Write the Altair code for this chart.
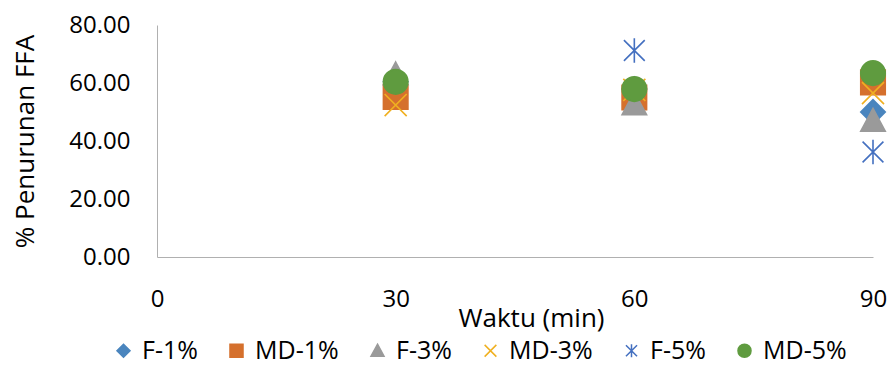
import altair as alt
import pandas as pd

times = [30, 60, 90]
series = ["F-1%", "MD-1%", "F-3%", "MD-3%", "F-5%", "MD-5%"]
f1 = [60.4, 57.9, 50.0]
md1 = [55.2, 55.0, 60.2]
f3 = [63.0, 52.7, 47.0]
md3 = [52.4, 57.6, 56.5]
f5 = [None, 71.2, 36.2]
md5 = [60.4, 57.9, 63.4]
colors = ["#4A85BE", "#D5702D", "#9A9A9A", "#F0B020", "#4470C0", "#5F9B3F"]

shapes = [
    "diamond",
    "square",
    "M0,-1L1,0.85L-1,0.85Z",
    "M-0.9,-0.9L0.9,0.9M-0.9,0.9L0.9,-0.9",
    "M0,-1L0,1M-0.85,-0.85L0.85,0.85M-0.85,0.85L0.85,-0.85",
    "circle",
]

rows = []
for i, (name, vals) in enumerate(zip(series, [f1, md1, f3, md3, f5, md5])):
    for t, v in zip(times, vals):
        if v is not None:
            rows.append({"Waktu": t, "Nilai": v, "Seri": name, "ord": i})
df = pd.DataFrame(rows)

FONT = "Open Sans"

chart = alt.Chart(df).mark_point(filled=True, size=600, strokeWidth=1.6, opacity=1).encode(
    x=alt.X("Waktu:Q",
            scale=alt.Scale(domain=[0, 90], nice=False),
            axis=alt.Axis(values=[0, 30, 60, 90], title="Waktu (min)", grid=False,
                          ticks=False, labelPadding=30, labelFlush=False, domainColor="#B0B0B0",
                          titleX=374, titleY=61, titleBaseline="middle")),
    y=alt.Y("Nilai:Q",
            scale=alt.Scale(domain=[0, 80], nice=False),
            axis=alt.Axis(values=[0, 20, 40, 60, 80], format=".2f", title="% Penurunan FFA",
                          grid=False, ticks=False, labelPadding=27, domainColor="#B0B0B0",
                          titleX=-132, titleY=116, titleAngle=-90, titleBaseline="middle",
                          titleAlign="center")),
    fill=alt.Fill("Seri:N", scale=alt.Scale(domain=series, range=colors), title=None,
                  legend=alt.Legend(orient="none", legendX=-46, legendY=313, direction="horizontal",
                                    columns=6, symbolSize=170, labelFontSize=25, labelFont=FONT,
                                    labelColor="#000000", labelOffset=6, columnPadding=26,
                                    symbolStrokeWidth=1.5)),
    stroke=alt.Stroke("Seri:N", scale=alt.Scale(domain=series, range=colors), title=None),
    shape=alt.Shape("Seri:N", scale=alt.Scale(domain=series, range=shapes), title=None),
    order=alt.Order("ord:Q"),
).properties(
    width=716, height=232,
    padding={"left": 157, "top": 25, "right": 14, "bottom": 108},
    autosize=alt.AutoSizeParams(type="none"),
).configure_view(stroke=None).configure_axis(
    labelFont=FONT, titleFont=FONT, labelFontSize=24, titleFontSize=26,
    labelColor="#000000", titleColor="#000000", titleFontWeight="normal",
)

chart.save("out.html", embed_options={"renderer": "svg", "actions": False})
